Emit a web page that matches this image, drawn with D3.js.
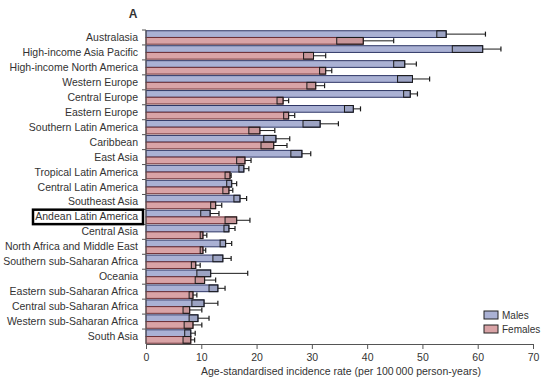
<!DOCTYPE html>
<html lang="en">
<head>
<meta charset="UTF-8">
<title>Incidence by region</title>
<script src="https://d3js.org/d3.v7.min.js"></script>
<style>
  body { margin: 0; background: #fff; }
  text { font-family: "Liberation Sans", Arial, sans-serif; fill: #333; }
</style>
</head>
<body>
<div class="canvas"></div>
<script>
  const regions = ['Australasia', 'High-income Asia Pacific', 'High-income North America', 'Western Europe',
    'Central Europe', 'Eastern Europe', 'Southern Latin America', 'Caribbean', 'East Asia',
    'Tropical Latin America', 'Central Latin America', 'Southeast Asia', 'Andean Latin America',
    'Central Asia', 'North Africa and Middle East', 'Southern sub-Saharan Africa', 'Oceania',
    'Eastern sub-Saharan Africa', 'Central sub-Saharan Africa', 'Western sub-Saharan Africa', 'South Asia']

  // rate per 100 000, with lower / upper uncertainty
  const males =      [54.3, 60.9, 46.8, 48.2, 47.8, 37.5, 31.5, 23.5, 28.2, 17.7, 15.5, 17.0, 11.6, 15.0, 14.4, 13.9, 11.7, 13.0, 10.5, 9.4, 8.1]
  const malesLow =   [52.6, 55.4, 44.8, 45.5, 46.6, 35.9, 28.4, 21.3, 26.2, 16.8, 14.6, 15.9, 9.9, 14.1, 13.4, 12.1, 9.2, 11.4, 8.3, 7.8, 7.0]
  const malesHigh =  [61.4, 64.2, 48.9, 51.3, 49.1, 38.8, 34.8, 26.0, 29.8, 18.6, 16.4, 18.2, 13.2, 16.1, 15.5, 15.4, 18.4, 14.3, 13.0, 11.4, 8.9]
  const females =    [39.3, 30.3, 32.5, 30.7, 24.8, 25.8, 20.6, 23.1, 17.9, 15.2, 15.0, 12.6, 16.4, 10.3, 10.3, 9.0, 10.6, 8.5, 7.9, 8.5, 8.1]
  const femalesLow = [34.5, 28.5, 31.4, 29.1, 23.7, 24.9, 18.6, 20.8, 16.4, 14.3, 13.9, 11.7, 14.3, 9.8, 9.8, 8.2, 8.9, 7.8, 6.7, 6.9, 6.7]
  const femalesHigh= [44.8, 32.5, 33.6, 32.3, 25.8, 26.9, 23.3, 25.5, 19.0, 15.4, 15.7, 13.7, 18.8, 11.0, 10.8, 9.8, 12.6, 9.2, 10.1, 10.1, 8.8]
  const xTicks = [0, 10, 20, 30, 40, 50, 60, 70]
  const highlight = 'Andean Latin America'

  const series = [
    { name: 'Males', vals: males, lo: malesLow, hi: malesHigh, fill: '#aab1d4', stroke: '#2f3766' },
    { name: 'Females', vals: females, lo: femalesLow, hi: femalesHigh, fill: '#d9a3a6', stroke: '#6e3036' }
  ]

  const svg = d3.select('.canvas').append('svg')
    .attr('width', 550)
    .attr('height', 384)

  const x = d3.scaleLinear().domain([0, 70]).range([146, 533])
  const y = d3.scaleBand().domain(regions).range([30, 344]).paddingInner(0.1).paddingOuter(0.05)
  const sub = d3.scaleBand().domain(series.map(s => s.name)).range([0, y.bandwidth()])

  // bars
  series.forEach(s => {
    const g = svg.append('g')
    regions.forEach((r, i) => {
      const y0 = y(r) + sub(s.name)
      const h = sub.bandwidth()
      g.append('rect')
        .attr('x', x(0)).attr('y', y0)
        .attr('width', x(s.vals[i]) - x(0)).attr('height', h)
        .attr('fill', s.fill).attr('stroke', s.stroke).attr('stroke-width', 1)
      // lower part of interval: outlined box inside the bar
      g.append('rect')
        .attr('x', x(s.lo[i])).attr('y', y0)
        .attr('width', x(s.vals[i]) - x(s.lo[i])).attr('height', h)
        .attr('fill', 'rgba(0,0,0,0.08)').attr('stroke', '#1a1a1a').attr('stroke-width', 1)
      const cy = y0 + h / 2
      g.append('line')
        .attr('x1', x(s.vals[i])).attr('x2', x(s.hi[i]))
        .attr('y1', cy).attr('y2', cy)
        .attr('stroke', '#1a1a1a').attr('stroke-width', 1)
      g.append('line')
        .attr('x1', x(s.hi[i])).attr('x2', x(s.hi[i]))
        .attr('y1', cy - 2.5).attr('y2', cy + 2.5)
        .attr('stroke', '#1a1a1a').attr('stroke-width', 1.2)
    })
  })

  // y axis: line, ticks at band edges, labels
  const yAxis = svg.append('g')
  yAxis.append('line')
    .attr('x1', x(0)).attr('x2', x(0)).attr('y1', 30).attr('y2', 344)
    .attr('stroke', '#555')
  regions.forEach(r => {
    const top = y(r) - y.step() * y.paddingInner() / 2
    yAxis.append('line')
      .attr('x1', x(0) - 4).attr('x2', x(0))
      .attr('y1', top).attr('y2', top)
      .attr('stroke', '#555')
    yAxis.append('text')
      .attr('x', 138).attr('y', y(r) + y.bandwidth() / 2 + 3.5)
      .attr('text-anchor', 'end')
      .attr('font-size', '10.5px')
      .text(r)
  })

  // highlight box
  svg.append('rect')
    .attr('x', 33).attr('y', y(highlight) - 0.5)
    .attr('width', 110).attr('height', y.bandwidth() + 1)
    .attr('fill', 'none').attr('stroke', '#000').attr('stroke-width', 2.5)

  // x axis
  const xAxis = svg.append('g').attr('transform', 'translate(0,344)')
    .call(d3.axisBottom(x).tickValues(xTicks).tickSize(5).tickSizeOuter(0))
  xAxis.select('.domain').attr('stroke', '#555')
  xAxis.selectAll('.tick line').attr('stroke', '#555')
  xAxis.selectAll('.tick text')
    .attr('font-size', '10.5px').attr('font-family', '"Liberation Sans", Arial, sans-serif')
    .attr('fill', '#333').attr('dy', '0.9em')

  svg.append('text')
    .attr('x', 341).attr('y', 375)
    .attr('text-anchor', 'middle')
    .attr('font-size', '10.5px')
    .text('Age-standardised incidence rate (per 100\u2009000 person-years)')

  svg.append('text')
    .attr('x', 133).attr('y', 18)
    .attr('text-anchor', 'middle')
    .attr('font-size', '12px').attr('font-weight', 'bold')
    .text('A')

  // legend
  const leg = svg.append('g')
  series.forEach((s, i) => {
    leg.append('rect')
      .attr('x', 484).attr('y', 311 + i * 14)
      .attr('width', 14).attr('height', 8)
      .attr('fill', s.fill).attr('stroke', '#222')
    leg.append('text')
      .attr('x', 502).attr('y', 319 + i * 14)
      .attr('font-size', '10px')
      .text(s.name)
  })
</script>
</body>
</html>
